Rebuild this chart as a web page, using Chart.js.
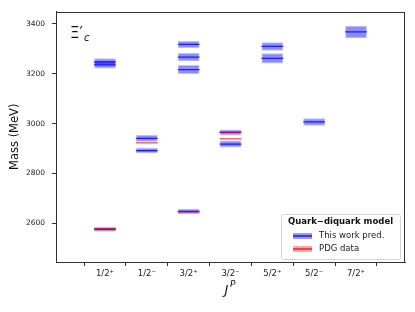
<!DOCTYPE html>
<html>
<head>
<meta charset="utf-8">
<script src="https://cdn.jsdelivr.net/npm/chart.js@4"></script>
<style>
  html, body { margin: 0; padding: 0; background: #fff; }
  #wrap { width: 415px; height: 312px; }
</style>
</head>
<body>
<div id="wrap"><canvas id="massChart" width="415" height="312"></canvas></div>
<script>
// J^P categories
const jpLabels = ["1/2\u207A", "1/2\u207B", "3/2\u207A", "3/2\u207B", "5/2\u207A", "5/2\u207B", "7/2\u207A"];

// quark-diquark predictions (category index, mass, half-width of band)
const predJ    = [0,    0,    0,    1,    1,    2,    2,    2,    2,    3,    3,    4,    4,    5,    6];
const predMass = [2576, 3236, 3248, 2892, 2941, 2648, 3217, 3267, 3318, 2918, 2965, 3262, 3310, 3007, 3368];
const predErr  = [10,   15,   14,   11,   14,   11,   18,   17,   14,   14,   12,   21,   17,   15,   25];

// PDG states
const pdgJ    = [0,      1,    2,      3,    3];
const pdgMass = [2578.5, 2923, 2645.9, 2939, 2966];
const pdgErr  = [2,      2,    2,      2,    2];

const yTicks = [2600, 2800, 3000, 3200, 3400];

const FONT = "'DejaVu Sans', sans-serif";

const halfBar = c => {
    const s = c.chart.scales.x;
    return Math.abs(s.getPixelForValue(0.26) - s.getPixelForValue(0));
};

// frame, label, legend, x title
const extras = {
    id: "extras",
    afterDraw(chart) {
        const ctx = chart.ctx;
        const a = chart.chartArea;
        ctx.save();
        ctx.strokeStyle = "#333";
        ctx.lineWidth = 1;
        ctx.strokeRect(Math.round(a.left) + 0.5, Math.round(a.top) + 0.5,
            Math.round(a.right - a.left) - 1, Math.round(a.bottom - a.top) - 1);

        // particle label
        ctx.fillStyle = "#111";
        ctx.textBaseline = "alphabetic";
        ctx.textAlign = "left";
        ctx.font = "15px " + FONT;
        ctx.fillText("\u039E\u2032", a.left + 14, a.top + 26);
        ctx.font = "italic 10px " + FONT;
        ctx.fillText("c", a.left + 28, a.top + 29);

        // x title J^P
        const cx = (a.left + a.right) / 2;
        ctx.font = "italic 13px " + FONT;
        ctx.fillText("J", cx - 6, 294);
        ctx.font = "italic 9px " + FONT;
        ctx.fillText("P", cx - 0.5, 287);

        // legend box
        const lx = a.right - 124, ly = a.bottom - 48, lw = 119, lh = 45;
        ctx.fillStyle = "rgba(255,255,255,0.9)";
        ctx.strokeStyle = "#d6d6d6";
        ctx.beginPath();
        ctx.roundRect(lx + 0.5, ly + 0.5, lw, lh, 2);
        ctx.fill();
        ctx.stroke();

        ctx.fillStyle = "#111";
        ctx.textAlign = "center";
        ctx.textBaseline = "middle";
        ctx.font = "bold 8.5px " + FONT;
        ctx.fillText("Quark\u2212diquark model", lx + lw / 2, ly + 8);

        const rows = [
            { text: "This work pred.", band: "rgba(0,0,255,0.4)", line: "rgba(0,0,255,0.85)" },
            { text: "PDG data", band: "rgba(255,0,0,0.35)", line: "rgba(255,0,0,0.85)" }
        ];
        ctx.textAlign = "left";
        ctx.font = "8.5px " + FONT;
        rows.forEach((r, i) => {
            const yy = ly + 22 + i * 13;
            ctx.fillStyle = r.band;
            ctx.fillRect(lx + 12, yy - 3, 19, 6);
            ctx.strokeStyle = r.line;
            ctx.lineWidth = 1.5;
            ctx.beginPath();
            ctx.moveTo(lx + 12, yy);
            ctx.lineTo(lx + 31, yy);
            ctx.stroke();
            ctx.fillStyle = "#222";
            ctx.fillText(r.text, lx + 38, yy);
        });
        ctx.restore();
    }
};

new Chart(document.getElementById("massChart"), {
    type: "bar",
    data: {
        datasets: [
            {
                type: "bar",
                label: "This work pred.",
                data: predJ.map((j, i) => ({ x: j, y: [predMass[i] - predErr[i], predMass[i] + predErr[i]] })),
                backgroundColor: "rgba(0,0,255,0.45)",
                borderColor: "rgba(0,0,255,0.25)",
                borderWidth: 1,
                borderSkipped: false,
                grouped: false,
                barPercentage: 0.52,
                categoryPercentage: 1,
                order: 4
            },
            {
                type: "scatter",
                label: "pred center",
                data: predJ.map((j, i) => ({ x: j, y: predMass[i] })),
                pointStyle: "line",
                pointRadius: halfBar,
                borderColor: "rgba(0,0,255,0.8)",
                borderWidth: 1.2,
                order: 3
            },
            {
                type: "bar",
                label: "PDG data",
                data: pdgJ.map((j, i) => ({ x: j, y: [pdgMass[i] - pdgErr[i], pdgMass[i] + pdgErr[i]] })),
                backgroundColor: "rgba(255,0,0,0.25)",
                borderWidth: 0,
                grouped: false,
                barPercentage: 0.52,
                categoryPercentage: 1,
                order: 2
            },
            {
                type: "scatter",
                label: "pdg center",
                data: pdgJ.map((j, i) => ({ x: j, y: pdgMass[i] })),
                pointStyle: "line",
                pointRadius: halfBar,
                borderColor: "rgba(255,0,0,0.75)",
                borderWidth: 1,
                order: 1
            }
        ]
    },
    options: {
        responsive: false,
        animation: false,
        events: [],
        layout: { padding: { top: 10, right: 10, left: 0, bottom: 0 } },
        plugins: { legend: { display: false }, tooltip: { enabled: false } },
        scales: {
            x: {
                type: "linear",
                min: -0.575,
                max: 6.575,
                afterBuildTicks: s => { s.ticks = jpLabels.map((_, i) => ({ value: i })); },
                afterFit: s => { s.height = 50; },
                ticks: {
                    callback: v => jpLabels[v],
                    color: "#222",
                    font: { family: FONT, size: 8.5 },
                    padding: 3,
                    maxRotation: 0,
                    autoSkip: false
                },
                grid: { drawOnChartArea: false, tickLength: 4, color: "#333" },
                border: { color: "#333" }
            },
            y: {
                min: 2445,
                max: 3450,
                afterBuildTicks: s => { s.ticks = yTicks.map(v => ({ value: v })); },
                afterFit: s => { s.width = 56; },
                ticks: {
                    callback: v => String(v),
                    color: "#222",
                    font: { family: FONT, size: 7.5 },
                    padding: 7
                },
                grid: { drawOnChartArea: false, tickLength: 4, color: "#333" },
                border: { color: "#333" },
                title: {
                    display: true,
                    text: "Mass (MeV)",
                    color: "#111",
                    font: { family: FONT, size: 11.5 },
                    padding: { top: 8, bottom: 0 }
                }
            }
        }
    },
    plugins: [extras]
});
</script>
</body>
</html>
